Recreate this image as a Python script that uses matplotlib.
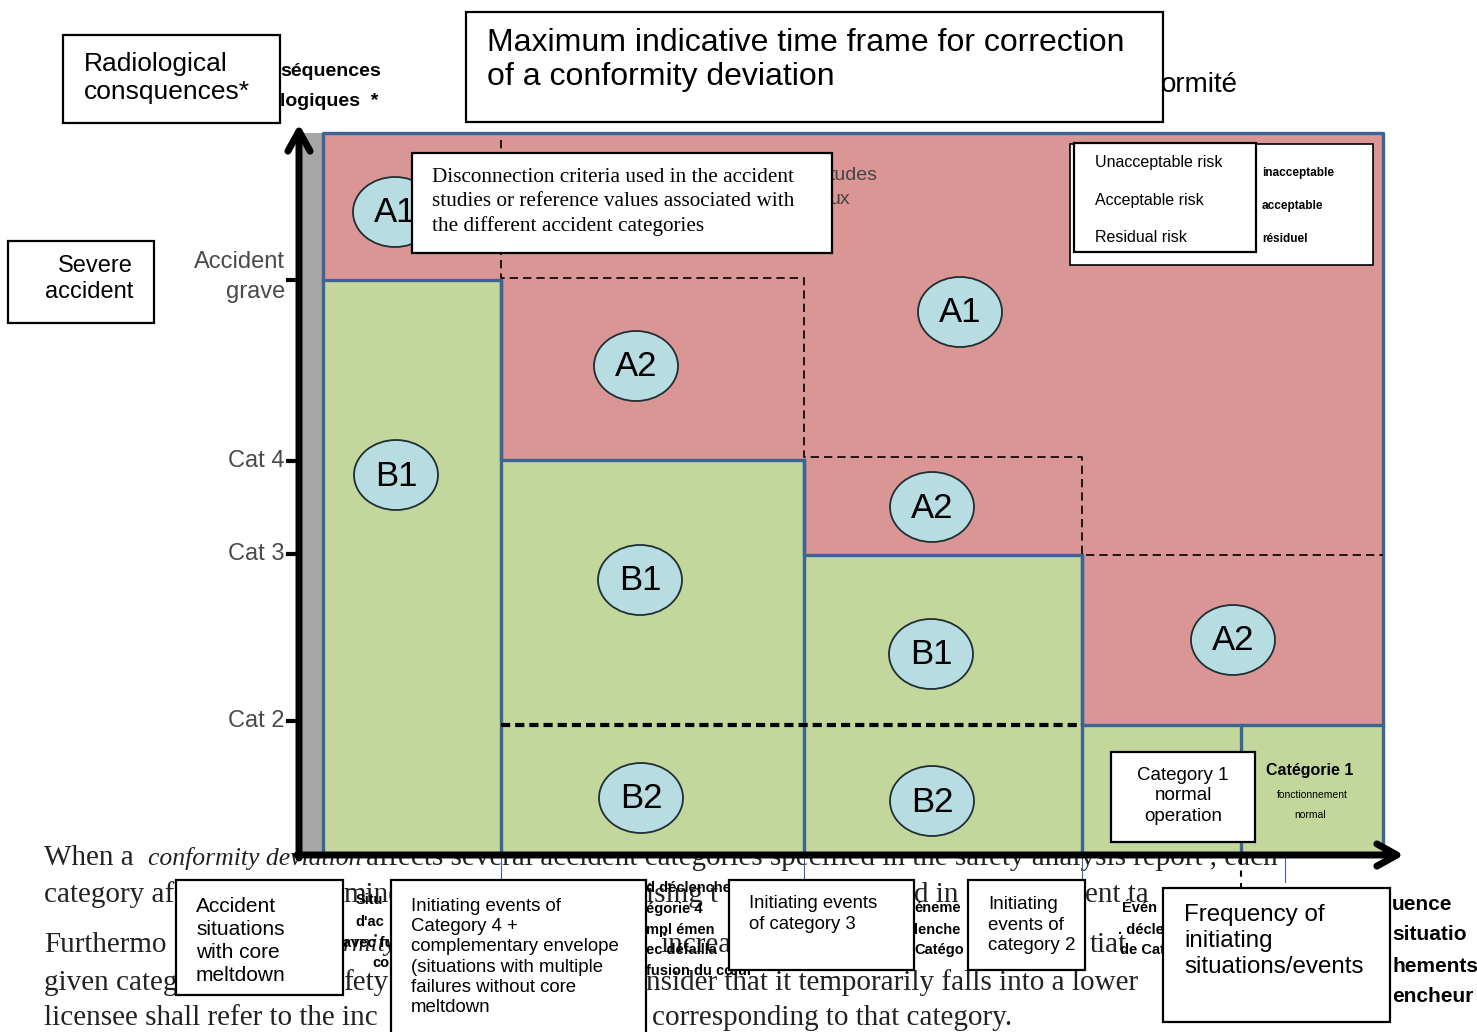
import numpy as np
import matplotlib
matplotlib.use('Agg')
import matplotlib.pyplot as plt
from matplotlib.patches import Rectangle, Ellipse

# frequency bins (x edges) and consequence levels (y) of the diagram, in picture units
freq_edges = [323, 501, 804, 1082, 1241, 1383]
green_top = [280, 460, 555, 725, 725]      # upper limit of the acceptable (green) zone per bin
plot_top = 133
plot_bottom = 855

# A1 / A2 limit (dashed step) and B1 / B2 limit
a_edges = [501, 804, 1082, 1383]
a_levels = [278, 457, 555]
b2_level = 725
b2_span = [501, 1082]

y_ticks = [280, 461, 554, 721]
y_labels = ['Accident\ngrave', 'Cat 4', 'Cat 3', 'Cat 2']

zone_labels = ['A1', 'A1', 'A2', 'A2', 'A2', 'B1', 'B1', 'B1', 'B2', 'B2']
zone_x = [395, 960, 636, 932, 1233, 396, 640, 931, 641, 932]
zone_y = [212, 312, 366, 507, 640, 475, 580, 654, 798, 801]

legend_en = ['Unacceptable risk', 'Acceptable risk', 'Residual risk']
legend_fr = ['inacceptable', 'acceptable', 'résiduel']

RED = '#d99694'
GREEN = '#c3d69b'
BLUE = '#3c6595'
OVAL = '#b7dde3'
SANS = 'Liberation Sans'
SERIF = 'Liberation Serif'

fig = plt.figure(figsize=(14.77, 10.32), dpi=100)
ax = fig.add_axes([0, 0, 1, 1])
ax.set_xlim(0, 1477)
ax.set_ylim(1032, 0)
ax.axis('off')

# ---- document text sitting behind the figure
para = [
    (44, 858, 'When a', 'normal'), (148, 858, 'conformity deviation', 'italic'),
    (366, 858, 'affects several accident categories specified in the safety analysis report , each', 'normal'),
    (44, 895, 'category af', 'normal'), (343, 895, 'mine', 'normal'), (646, 895, 'ising t', 'normal'),
    (914, 895, 'd in', 'normal'), (1085, 895, 'ent ta', 'normal'),
    (44, 945, 'Furthermo', 'normal'), (343, 945, 'rmity', 'italic'), (660, 945, 'increa', 'normal'),
    (1090, 945, 'tiat', 'normal'),
    (44, 983, 'given categ', 'normal'), (343, 983, 'fety', 'normal'),
    (646, 983, 'nsider that it temporarily falls into a lower', 'normal'),
    (44, 1018, 'licensee shall refer to the inc', 'normal'),
    (652, 1018, 'corresponding to that category.', 'normal'),
]
for x, y, s, st in para:
    ax.text(x, y, s, fontsize=18.5 if st == 'italic' else 21, family=SERIF, style=st,
            color='#222222', va='center', ha='left', zorder=0)

# French leftovers of the original figure
fr_bits = [
    (280, 72, 'séquences', 14), (280, 102, 'logiques  *', 14),
    (1392, 905, 'uence', 15), (1392, 935, 'situatio', 15),
    (1392, 966, 'hements', 15), (1392, 996, 'encheur', 15),
]
for x, y, s, fs in fr_bits:
    ax.text(x, y, s, fontsize=fs, family=SANS, weight='bold', va='center', ha='left', zorder=0.5)
ax.text(1161, 85, 'ormité', fontsize=20, family=SANS, va='center', ha='left', zorder=0.5)

fr_small = [
    (356, 900, 'Situ'), (355, 922, "d'ac"), (343, 943, 'avec fu'), (372, 963, 'co'),
    (646, 888, 'd déclenche'), (646, 909, 'égorie 4'), (646, 930, 'mpl émen'),
    (646, 950, 'ec défailla'), (646, 971, 'fusion du cœur'),
    (914, 908, 'éneme'), (914, 930, 'lenche'), (914, 950, 'Catégo'),
    (1122, 908, 'Évén'), (1118, 930, '. décle'), (1120, 950, 'de Cat'),
]
for x, y, s in fr_small:
    ax.text(x, y, s, fontsize=10.5, family=SANS, weight='bold', va='center', ha='left', zorder=0.5)

# ---- risk zones
ax.add_patch(Rectangle((freq_edges[0], plot_top), freq_edges[-1] - freq_edges[0],
                       plot_bottom - plot_top, facecolor=RED, edgecolor='none', zorder=1))
for i in range(len(green_top)):
    ax.add_patch(Rectangle((freq_edges[i], green_top[i]), freq_edges[i + 1] - freq_edges[i],
                           plot_bottom - green_top[i], facecolor=GREEN, edgecolor='none', zorder=1))
ax.add_patch(Rectangle((302, plot_top), freq_edges[0] - 302, plot_bottom - plot_top,
                       facecolor='#a6a6a6', edgecolor='none', zorder=1))

# blue outlines
ax.plot([freq_edges[0], freq_edges[0], freq_edges[-1], freq_edges[-1]],
        [plot_bottom, plot_top, plot_top, plot_bottom], color=BLUE, lw=2.4, zorder=2)
sx, sy = [freq_edges[0]], [green_top[0]]
for i in range(len(green_top)):
    sx += [freq_edges[i], freq_edges[i + 1]]
    sy += [green_top[i], green_top[i]]
ax.plot(sx, sy, color=BLUE, lw=2.4, zorder=2)
for i in range(1, len(freq_edges) - 1):
    ax.plot([freq_edges[i], freq_edges[i]], [min(green_top[i - 1], green_top[i]), plot_bottom],
            color=BLUE, lw=2.4, zorder=2)
for xb in [501, 804, 1082, 1285]:
    ax.plot([xb, xb], [plot_bottom, 882], color=BLUE, lw=0.8, zorder=2)
ax.plot([1241, 1241], [858, 900], color='k', lw=1.5, ls=(0, (3, 3)), zorder=2)

# A1/A2 dashed step
dx, dy = [a_edges[0], a_edges[0]], [140, a_levels[0]]
for i in range(len(a_levels)):
    dx += [a_edges[i], a_edges[i + 1]]
    dy += [a_levels[i], a_levels[i]]
    if i + 1 < len(a_levels):
        dx += [a_edges[i + 1]]
        dy += [a_levels[i + 1]]
ax.plot(dx, dy, color='k', lw=1.2, ls=(0, (5, 3)), zorder=3)
ax.plot(b2_span, [b2_level, b2_level], color='k', lw=3, ls=(0, (2.2, 1.2)), zorder=3)

# zone ovals
for lab, x, y in zip(zone_labels, zone_x, zone_y):
    ax.add_patch(Ellipse((x, y), 84, 70, facecolor=OVAL, edgecolor='#1f2f33', lw=1.3, zorder=4))
    ax.text(x, y + 1, lab, fontsize=25, family=SANS, ha='center', va='center', zorder=5)

# ---- axes arrows and ticks
arrow = dict(arrowstyle='->,head_length=0.9,head_width=0.5', lw=5, color='k',
             mutation_scale=16, shrinkA=0, shrinkB=0)
ax.annotate('', xy=(299, 124), xytext=(299, 858), arrowprops=arrow, zorder=6)
ax.annotate('', xy=(1404, 855), xytext=(297, 855), arrowprops=arrow, zorder=6)
for yt, lab in zip(y_ticks, y_labels):
    ax.plot([288, 299], [yt, yt], color='k', lw=3, zorder=6)
    ax.text(285, 277 if '\n' in lab else yt, lab,
            fontsize=17, family=SANS, color='#4a4a4a', ha='right', va='center',
            multialignment='right', linespacing=1.43, zorder=6)

ax.text(830, 175, 'tudes', fontsize=14, family=SANS, color='#444444', va='center', zorder=1.5)
ax.text(830, 200, 'ux', fontsize=14, family=SANS, color='#444444', va='center', zorder=1.5)


def box(x0, y0, x1, y1, lw=1.6, z=10):
    ax.add_patch(Rectangle((x0, y0), x1 - x0, y1 - y0, facecolor='white',
                           edgecolor='k', lw=lw, zorder=z))


# ---- white annotation boxes
box(63, 35, 280, 123)
ax.text(84, 78, 'Radiological\nconsquences*', fontsize=19, family=SANS, va='center',
        linespacing=1.22, zorder=11)

box(466, 12, 1163, 122)
ax.text(487, 60, 'Maximum indicative time frame for correction\nof a conformity deviation',
        fontsize=23, family=SANS, va='center', linespacing=1.18, zorder=11)

box(8, 241, 154, 323)
ax.text(133, 279, 'Severe\naccident', fontsize=17, family=SANS, ha='right', va='center',
        multialignment='right', linespacing=1.23, zorder=11)

box(412, 153, 832, 253)
ax.text(432, 202, 'Disconnection criteria used in the accident\nstudies or reference values associated with\n'
        'the different accident categories', fontsize=15.3, family=SERIF, va='center',
        linespacing=1.37, zorder=11)

# legend
box(1070, 144, 1373, 265, lw=1.2)
box(1074, 143, 1256, 252, lw=1.6, z=11)
for i, (en, fr) in enumerate(zip(legend_en, legend_fr)):
    ax.text(1095, 163 + 37 * i, en, fontsize=11.5, family=SANS, va='center', zorder=12)
    ax.text(1262, 173 + 33 * i, fr, fontsize=8.5, family=SANS, weight='bold', va='center', zorder=12)

# category 1
box(1111, 752, 1255, 842)
ax.text(1183, 796, 'Category 1\nnormal\noperation', fontsize=13.5, family=SANS, ha='center',
        va='center', multialignment='center', linespacing=1.27, zorder=11)
ax.text(1310, 771, 'Catégorie 1', fontsize=11.5, family=SANS, weight='bold', ha='center', va='center', zorder=5)
ax.text(1312, 795, 'fonctionnement', fontsize=7.5, family=SANS, ha='center', va='center', zorder=5)
ax.text(1310, 815, 'normal', fontsize=7.5, family=SANS, ha='center', va='center', zorder=5)

# frequency boxes
box(176, 880, 343, 995)
ax.text(196, 941, 'Accident\nsituations\nwith core\nmeltdown', fontsize=15, family=SANS,
        va='center', linespacing=1.27, zorder=11)
box(391, 880, 646, 1045)
ax.text(411, 957, 'Initiating events of\nCategory 4 +\ncomplementary envelope\n'
        '(situations with multiple\nfailures without core\nmeltdown', fontsize=13.4, family=SANS,
        va='center', linespacing=1.26, zorder=11)
box(729, 880, 914, 970)
ax.text(749, 914, 'Initiating events\nof category 3', fontsize=13.3, family=SANS,
        va='center', linespacing=1.29, zorder=11)
box(968, 880, 1085, 970)
ax.text(988, 925, 'Initiating\nevents of\ncategory 2', fontsize=13.5, family=SANS,
        va='center', linespacing=1.27, zorder=11)
box(1163, 888, 1390, 1022)
ax.text(1184, 941, 'Frequency of\ninitiating\nsituations/events', fontsize=17.4, family=SANS,
        va='center', linespacing=1.24, zorder=11)

fig.savefig('out.png', dpi=100)
